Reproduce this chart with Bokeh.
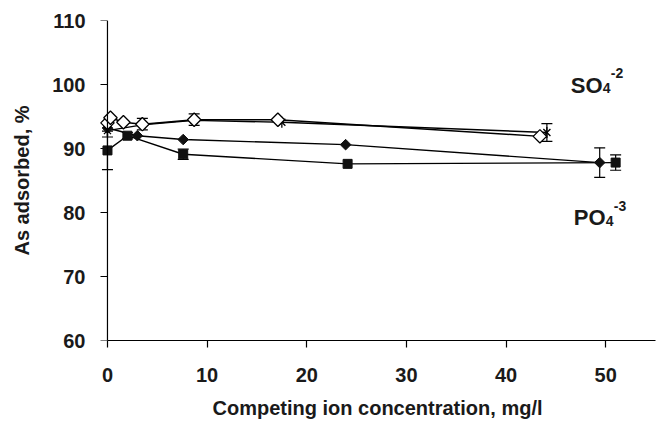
from bokeh.plotting import figure
from bokeh.models import Range1d, ColumnDataSource, Whisker, TeeHead, Label, FixedTicker, Span
from bokeh.embed import file_html
from bokeh.resources import INLINE
import numpy as np

# ---- data ----
x_ticks = [0, 10, 20, 30, 40, 50]
y_ticks = [60, 70, 80, 90, 100, 110]

# PO4 series (filled squares)
sq_x = [0, 2.0, 7.6, 24.1, 51.0]
sq_y = [89.7, 92.0, 89.1, 87.6, 87.8]
sq_err = [3.0, 0.5, 0.8, 0.0, 1.2]

# PO4 series (filled diamonds)
fd_x = [0, 3.0, 7.6, 23.9, 49.4]
fd_y = [93.2, 92.0, 91.4, 90.6, 87.8]
fd_err = [0.0, 0.0, 0.0, 0.0, 2.3]

# SO4 series (stars)
st_x = [0, 3.5, 8.7, 17.5, 44.1]
st_y = [92.8, 93.7, 94.4, 94.1, 92.5]
st_err = [1.0, 0.0, 0.0, 0.0, 1.4]

# SO4 series (open diamonds)
od_x = [0, 0.3, 1.6, 3.5, 8.7, 17.1, 43.4]
od_y = [94.0, 94.8, 94.1, 93.8, 94.5, 94.5, 91.9]
od_err = [0.0, 0.0, 0.0, 0.9, 0.9, 0.0, 0.0]

FONT = "Liberation Sans"
TXT = "#1a1a1a"
X0 = -0.8  # small margin so markers sitting on the y axis are not clipped

p = figure(width=659, height=426, output_backend="svg", toolbar_location=None,
           x_range=Range1d(X0, 55), y_range=Range1d(60, 110),
           min_border_left=99, min_border_right=4, min_border_top=20, min_border_bottom=86)
p.background_fill_color = "white"
p.border_fill_color = "white"
p.outline_line_color = None
p.grid.grid_line_color = None

for ax in (p.xaxis[0], p.yaxis[0]):
    ax.axis_line_color = "black"
    ax.axis_line_width = 1.2
    ax.major_tick_line_color = "black"
    ax.major_tick_line_width = 1.2
    ax.major_tick_in = 0
    ax.major_tick_out = 7
    ax.minor_tick_line_color = None
    ax.major_label_text_font = FONT
    ax.major_label_text_font_style = "bold"
    ax.major_label_text_font_size = "20px"
    ax.major_label_text_color = TXT
    ax.axis_label_text_font = FONT
    ax.axis_label_text_font_style = "bold"
    ax.axis_label_text_font_size = "20px"
    ax.axis_label_text_color = TXT

p.xaxis.ticker = FixedTicker(ticks=x_ticks)
p.yaxis.ticker = FixedTicker(ticks=y_ticks)
p.xaxis.bounds = (0, 55)
p.xaxis.axis_label = "Competing ion concentration, mg/l"
p.yaxis.axis_label = "As adsorbed, %"
p.xaxis.major_label_standoff = 20
p.xaxis.axis_label_standoff = 12

# y axis: labels from the frame edge, the line and ticks drawn at x = 0
p.yaxis.axis_line_color = None
p.yaxis.major_tick_line_color = None
p.yaxis.major_tick_out = 0
p.yaxis.major_label_standoff = 14
p.yaxis.axis_label_standoff = 16
p.add_layout(Span(location=0, dimension="height", line_color="black", line_width=1.2))
p.segment(x0=[X0 + 0.1] * len(y_ticks), y0=y_ticks, x1=[0] * len(y_ticks), y1=y_ticks,
          line_color="black", line_width=1.2)


def whiskers(xs, ys, es):
    idx = [i for i, e in enumerate(es) if e > 0]
    src = ColumnDataSource(dict(
        base=[xs[i] for i in idx],
        upper=[ys[i] + es[i] for i in idx],
        lower=[ys[i] - es[i] for i in idx]))
    w = Whisker(source=src, base="base", upper="upper", lower="lower", dimension="height",
                line_color="black", line_width=1.2,
                upper_head=TeeHead(size=11, line_color="black", line_width=1.2),
                lower_head=TeeHead(size=11, line_color="black", line_width=1.2))
    p.add_layout(w)


LW = 1.4
# lines
p.line(sq_x, sq_y, line_color="black", line_width=LW)
p.line(fd_x, fd_y, line_color="black", line_width=LW)
p.line(st_x, st_y, line_color="black", line_width=LW)
p.line(od_x, od_y, line_color="black", line_width=LW)

# error bars
whiskers(sq_x, sq_y, sq_err)
whiskers(fd_x, fd_y, fd_err)
whiskers(st_x, st_y, st_err)
whiskers(od_x, od_y, od_err)

# markers
p.scatter(sq_x, sq_y, marker="square", size=9, fill_color="#111111", line_color="#111111")
p.scatter(fd_x, fd_y, marker="square", size=7.5, angle=np.pi / 4,
          fill_color="#111111", line_color="#111111")
p.scatter(st_x, st_y, marker="x", size=10, line_color="black", line_width=1.3)
p.scatter(st_x, st_y, marker="dash", size=11, angle=np.pi / 2, line_color="black", line_width=1.3)
p.scatter(od_x, od_y, marker="square", size=9.5, angle=np.pi / 4,
          fill_color="white", line_color="black", line_width=1.3)


# ion labels
def ion_label(x, y, base, sub, sup):
    common = dict(x=x, y=y, text_font=FONT, text_font_style="bold", text_color=TXT,
                  text_baseline="alphabetic", text_align="left")
    p.add_layout(Label(text=base, text_font_size="22px", **common))
    p.add_layout(Label(text=sub, text_font_size="14px", x_offset=32, y_offset=-3, **common))
    p.add_layout(Label(text=sup, text_font_size="14px", x_offset=40, y_offset=12, **common))


ion_label(46.5, 99.85, "SO", "4", "-2")
ion_label(46.8, 79.2, "PO", "4", "-3")

open("out.html", "w").write(file_html(p, INLINE))
